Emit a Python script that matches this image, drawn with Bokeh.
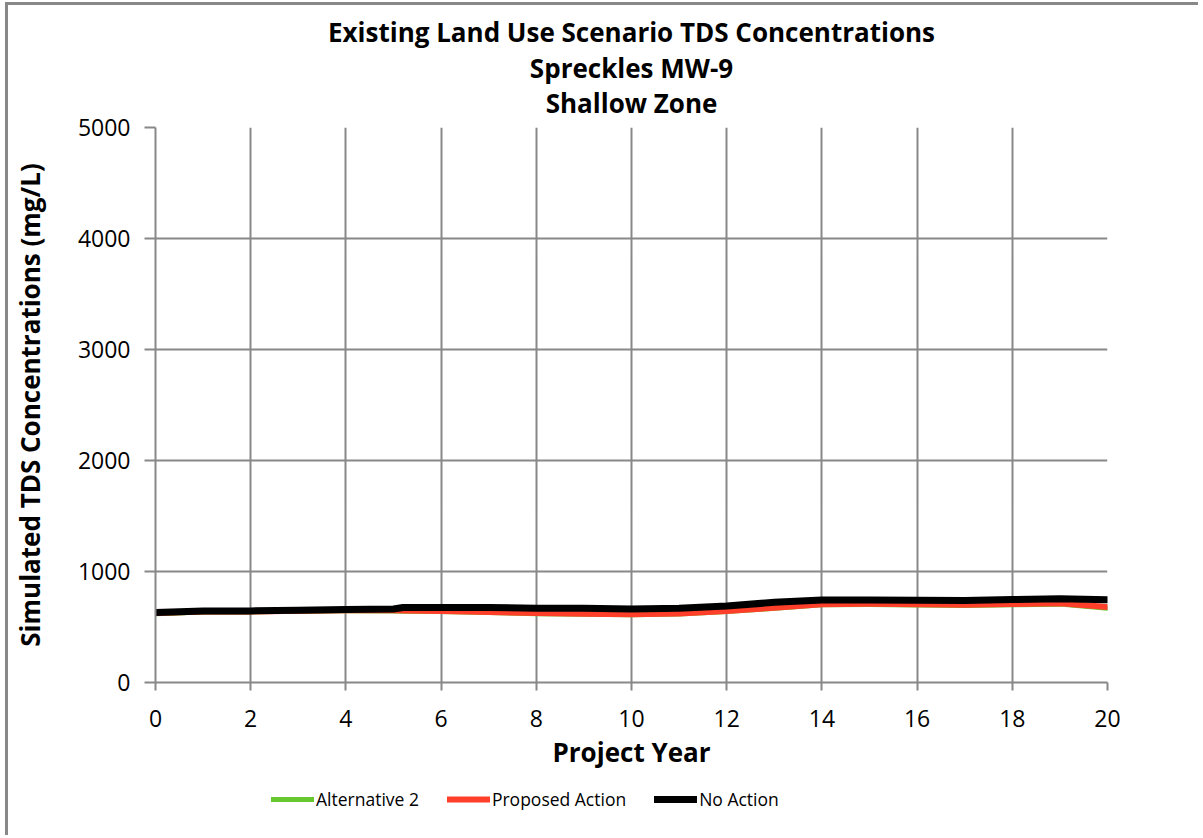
from bokeh.plotting import figure
from bokeh.models import Legend, LegendItem, FixedTicker, Range1d, Title
from bokeh.layouts import column
from bokeh.embed import file_html
from bokeh.resources import INLINE

# ---- data ----
years = [0, 1, 2, 3, 4, 5, 5.2, 6, 7, 8, 9, 10, 11, 12, 13, 14, 15, 16, 17, 18, 19, 20]
alternative_2 = [620, 636, 636, 642, 646, 644, 643, 640, 630, 620, 614, 610, 616, 640, 668, 700, 703, 698, 694, 700, 706, 668]
proposed_action = [625, 640, 640, 647, 652, 650, 649, 645, 635, 625, 620, 615, 622, 645, 673, 706, 709, 705, 700, 707, 713, 680]
no_action = [630, 645, 645, 652, 658, 662, 675, 675, 676, 670, 670, 662, 668, 690, 722, 743, 744, 740, 738, 748, 755, 745]

x_ticks = [0, 2, 4, 6, 8, 10, 12, 14, 16, 18, 20]
y_ticks = [0, 1000, 2000, 3000, 4000, 5000]

title_lines = ["Existing Land Use Scenario TDS Concentrations", "Spreckles MW-9", "Shallow Zone"]
x_title = "Project Year"
y_title = "Simulated TDS Concentrations (mg/L)"
series_names = ["Alternative 2", "Proposed Action", "No Action"]
series_colors = ["#66C72F", "#FF3F2A", "black"]
series_widths = [5, 6, 7]

GRAY = "#888888"
FONT = "Open Sans"

p = figure(width=1193, height=778, x_range=Range1d(0, 20), y_range=Range1d(0, 5000),
           output_backend="svg", toolbar_location=None,
           min_border_left=143, min_border_right=94, min_border_top=121, min_border_bottom=101,
           x_axis_label=x_title, y_axis_label=y_title)
p.styles = {"margin-left": "5px", "margin-top": "2px",
            "border-left": "3px solid #888888", "border-top": "3px solid #888888"}

p.outline_line_color = None
p.background_fill_color = "white"
p.border_fill_color = "white"

for ax, ticks, tout, stand in ((p.xaxis, x_ticks, 8, 19), (p.yaxis, y_ticks, 11, 14)):
    ax.ticker = FixedTicker(ticks=ticks)
    ax.axis_line_color = GRAY
    ax.axis_line_width = 2
    ax.major_tick_line_color = GRAY
    ax.major_tick_line_width = 2
    ax.major_tick_out = tout
    ax.major_tick_in = 0
    ax.minor_tick_line_color = None
    ax.major_label_text_font = FONT
    ax.major_label_text_font_size = "23px"
    ax.major_label_text_color = "black"
    ax.major_label_standoff = stand
    ax.axis_label_text_font = FONT
    ax.axis_label_text_font_size = "26px"
    ax.axis_label_text_font_style = "bold"
    ax.axis_label_text_color = "black"

p.xaxis.axis_label_standoff = 4
p.yaxis.axis_label_standoff = 27
p.yaxis.major_label_orientation = "horizontal"

for g in (p.xgrid, p.ygrid):
    g.grid_line_color = GRAY
    g.grid_line_width = 2

for ys, c, w in zip((alternative_2, proposed_action, no_action), series_colors, series_widths):
    p.line(years, ys, line_color=c, line_width=w, line_cap="round", line_join="round")

# title lines, innermost first
for txt, so in zip(reversed(title_lines), (13, -18, 13)):
    p.add_layout(Title(text=txt, align="center", standoff=so, text_font=FONT,
                       text_font_style="bold", text_font_size="26px", text_color="black"), "above")

# legend strip below the chart (its frame lines up with the chart frame)
p2 = figure(width=1193, height=55, x_range=Range1d(0, 1), y_range=Range1d(0, 1),
            output_backend="svg", toolbar_location=None, x_axis_type=None, y_axis_type=None,
            min_border_left=0, min_border_right=0, min_border_top=0, min_border_bottom=0)
p2.styles = {"margin-left": "5px", "border-left": "3px solid #888888"}
p2.outline_line_color = None
p2.xgrid.visible = False
p2.ygrid.visible = False
p2.background_fill_color = "white"
p2.border_fill_color = "white"

items = []
for name, c, w in zip(series_names, series_colors, series_widths):
    # one point outside the visible range: only the legend swatch shows
    r = p2.line([-5, -4], [-5, -5], line_color=c, line_width=w, line_cap="round")
    items.append(LegendItem(label=name, renderers=[r]))

legend = Legend(items=items, orientation="horizontal", location=(116, 24),
                glyph_width=43, glyph_height=20, label_standoff=2, spacing=28,
                padding=0, margin=0, border_line_color=None, background_fill_alpha=0,
                label_text_font=FONT, label_text_font_size="17.5px", label_text_color="black")
p2.add_layout(legend)

layout = column(p, p2, spacing=0)
open("out.html", "w").write(file_html(layout, INLINE))
